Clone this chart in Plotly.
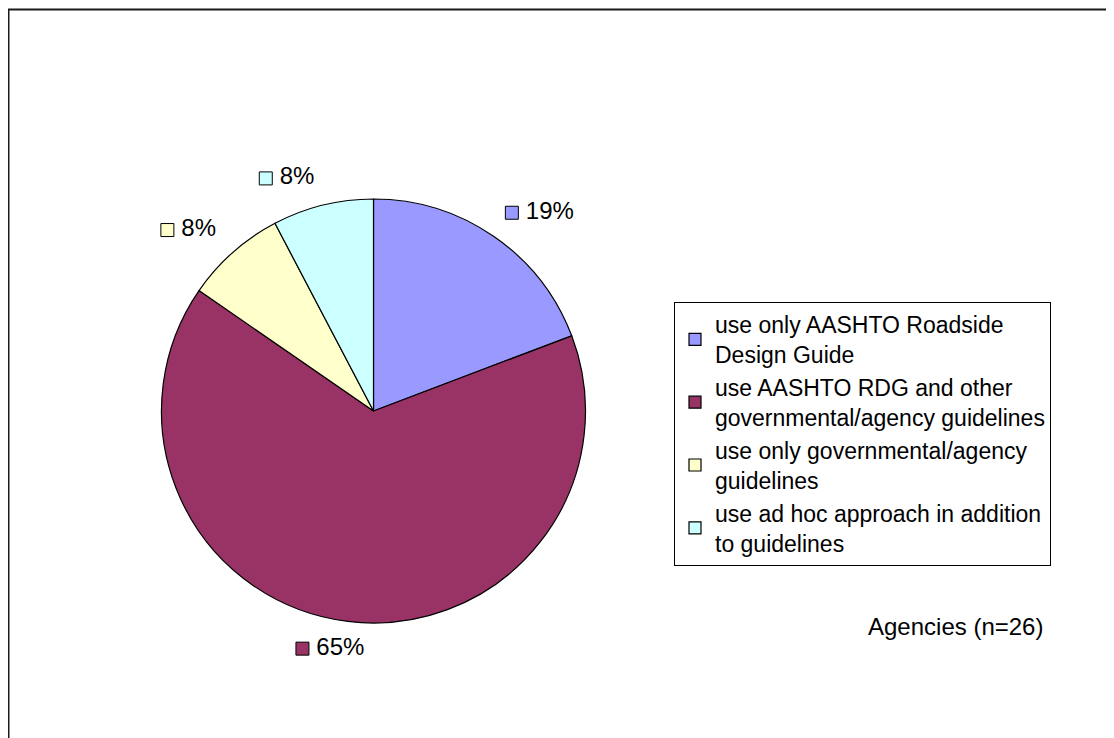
import math
import plotly.graph_objects as go

# ---- data ----
categories = [
    "use only AASHTO Roadside<br>Design Guide",
    "use AASHTO RDG and other<br>governmental/agency guidelines",
    "use only governmental/agency<br>guidelines",
    "use ad hoc approach in addition<br>to guidelines",
]
counts = [5, 17, 2, 2]
colors = ["#9999FF", "#993366", "#FFFFCC", "#CCFFFF"]
note_text = "Agencies (n=26)"

# figure sits inside the page's 8px body margin
OFF = 8
W, H = 1106, 730
FONT = "Liberation Sans, Arial, sans-serif"
FS = 24
LEG_FS = 23


def fx(px):
    return (px - OFF) / W


def fy(py):
    return 1 - (py - OFF) / H


# pie geometry in page pixels
cx, cy, R = 373.5, 411.0, 212.0

fig = go.Figure()
fig.add_trace(go.Pie(
    labels=categories, values=counts, sort=False, direction="clockwise",
    rotation=0, textinfo="none", hoverinfo="label+percent",
    marker=dict(colors=colors, line=dict(color="#000000", width=1.2)),
    domain=dict(x=[fx(cx - R), fx(cx + R)], y=[fy(cy + R), fy(cy - R)]),
    showlegend=True,
))

# outside percentage labels, derived from the data
total = sum(counts)
cum = 0
lx, ly, ltxt = [], [], []
for v in counts:
    frac_mid = (cum + v / 2) / total
    cum += v
    ang = 2 * math.pi * frac_mid
    s, co = math.sin(ang), math.cos(ang)
    r2 = R * 1.095
    px = cx + r2 * s
    py = cy - r2 * co
    pct = f"{round(100 * v / total)}%"
    width = 24 + FS * (0.556 * (len(pct) - 1) + 0.889)
    if abs(s) < 0.2:
        left = px - width * (0.5 + 0.5 * abs(s) / 0.32 * (1 if s < 0 else -1))
    elif s > 0:
        left = px
    else:
        left = px - width
    ymid = py - FS * 0.3 if co > 0 else py + FS * 0.3
    lx.append(left + 6.5 - OFF)
    ly.append(ymid - OFF)
    ltxt.append("\u2009" + pct)

fig.add_trace(go.Scatter(
    x=lx, y=ly, mode="markers+text", text=ltxt, textposition="middle right",
    textfont=dict(family=FONT, size=FS, color="#000000"),
    marker=dict(symbol="square", size=13, color=colors, line=dict(color="#000000", width=1)),
    showlegend=False, hoverinfo="skip", xaxis="x", yaxis="y",
))

fig.update_layout(
    width=W, height=H,
    margin=dict(l=0, r=0, t=0, b=0),
    paper_bgcolor="white", plot_bgcolor="rgba(0,0,0,0)",
    font=dict(family=FONT, size=FS, color="#000000"),
    xaxis=dict(range=[0, W], visible=False, domain=[0, 1], fixedrange=True),
    yaxis=dict(range=[H, 0], visible=False, domain=[0, 1], fixedrange=True),
    legend=dict(
        x=fx(674), y=fy(302), xanchor="left", yanchor="top",
        bordercolor="#000000", borderwidth=1, bgcolor="white",
        font=dict(family=FONT, size=LEG_FS, color="#000000"),
        itemwidth=30, traceorder="normal",
    ),
    annotations=[dict(
        x=fx(1045), y=fy(626), xref="paper", yref="paper",
        xanchor="right", yanchor="middle", text=note_text, showarrow=False,
        font=dict(family=FONT, size=FS, color="#000000"),
    )],
    shapes=[dict(
        type="rect", xref="paper", yref="paper",
        x0=0.5 / W, x1=1.02, y0=-0.02, y1=1 - 1.5 / H,
        line=dict(color="#1a1a1a", width=2), fillcolor="rgba(0,0,0,0)",
    )],
)

fig.write_html("out.html")
